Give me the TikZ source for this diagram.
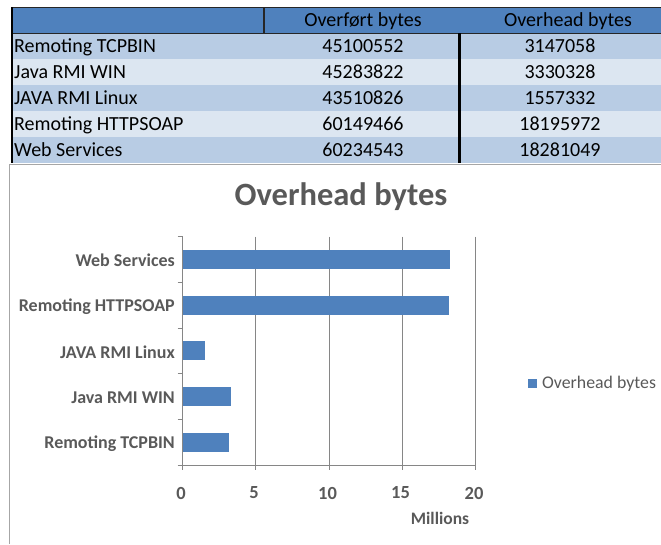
\documentclass[tikz,border=0pt]{standalone}
\usepackage{fontspec}
\setmainfont{Carlito}
\usepackage{tikz}

\definecolor{headblue}{HTML}{4F81BD}
\definecolor{rowdark}{HTML}{B8CCE4}
\definecolor{rowlight}{HTML}{DCE6F1}
\definecolor{chartgray}{HTML}{595959}
\definecolor{gridgray}{HTML}{868686}

\begin{document}
\begin{tikzpicture}[x=1pt,y=-1pt,
            cell/.style={font=\fontsize{20}{22}\selectfont, inner sep=0pt, text height=13pt, text depth=1pt},
            catlabel/.style={font=\fontsize{18}{20}\selectfont\bfseries, text=chartgray, anchor=east, inner sep=0pt},
            ticklabel/.style={font=\fontsize{18.5}{20}\selectfont\bfseries, text=chartgray, inner sep=0pt},
            bar/.style={fill=headblue}]

        \useasboundingbox (0,0) rectangle (661,544);

        % table
        \fill[headblue] (11,7) rectangle (661,33);
        \fill[rowdark]  (11,33) rectangle (661,59);
        \fill[rowlight] (11,59) rectangle (661,85);
        \fill[rowdark]  (11,85) rectangle (661,111);
        \fill[rowlight] (11,111) rectangle (661,137);
        \fill[rowdark]  (11,137) rectangle (661,163);
        \draw[black!85, line width=1pt] (11,7) -- (661,7);
        \draw[black!85, line width=1pt] (11,33) -- (661,33);
        \draw[black, line width=2pt] (12,7) -- (12,163);
        \draw[black!85, line width=1.5pt] (264,7) -- (264,33);
        \draw[black, line width=2.5pt] (459.5,33) -- (459.5,163);

        \node[cell] (hOver) at (363,20) {Overført bytes};
        \node[cell] (hHead) at (568,20) {Overhead bytes};

        \node[cell, anchor=west] (tTcp) at (14,46.5) {Remoting TCPBIN};
        \node[cell] (oTcp) at (363,46.5) {45100552};
        \node[cell] (hTcp) at (560,46.5) {3147058};
        \node[cell, anchor=west] (tWin) at (14,72.5) {Java RMI WIN};
        \node[cell] (oWin) at (363,72.5) {45283822};
        \node[cell] (hWin) at (560,72.5) {3330328};
        \node[cell, anchor=west] (tLin) at (14,98.5) {JAVA RMI Linux};
        \node[cell] (oLin) at (363,98.5) {43510826};
        \node[cell] (hLin) at (560,98.5) {1557332};
        \node[cell, anchor=west] (tSoap) at (14,124.5) {Remoting HTTPSOAP};
        \node[cell] (oSoap) at (363,124.5) {60149466};
        \node[cell] (hSoap) at (560,124.5) {18195972};
        \node[cell, anchor=west] (tWeb) at (14,150.5) {Web Services};
        \node[cell] (oWeb) at (363,150.5) {60234543};
        \node[cell] (hWeb) at (560,150.5) {18281049};

        % chart frame
        \draw[gray!70, line width=1pt] (9.5,544) -- (9.5,164) -- (661,164);

        \node[font=\fontsize{32.5}{36}\selectfont\bfseries, text=chartgray] (title) at (341,197) {Overhead bytes};

        % grid and axes
        \draw[gridgray, line width=0.8pt] (255.8,236.7) -- (255.8,470);
        \draw[gridgray, line width=0.8pt] (329,236.7) -- (329,470);
        \draw[gridgray, line width=0.8pt] (402.1,236.7) -- (402.1,470);
        \draw[gridgray, line width=0.8pt] (475.3,236.7) -- (475.3,470);
        \draw[gridgray, line width=0.8pt] (182.7,236.7) -- (182.7,470);
        \draw[gridgray, line width=0.8pt] (177.5,465) -- (475.3,465);
        \draw[gridgray, line width=0.8pt] (177.5,236.7) -- (182.7,236.7);
        \draw[gridgray, line width=0.8pt] (177.5,282.4) -- (182.7,282.4);
        \draw[gridgray, line width=0.8pt] (177.5,328.1) -- (182.7,328.1);
        \draw[gridgray, line width=0.8pt] (177.5,373.7) -- (182.7,373.7);
        \draw[gridgray, line width=0.8pt] (177.5,419.4) -- (182.7,419.4);

        % bars (14.63 per million)
        \fill[bar] (182.7,250) rectangle ({182.7+14.63*18.281049},269);
        \fill[bar] (182.7,295.7) rectangle ({182.7+14.63*18.195972},314.7);
        \fill[bar] (182.7,341.4) rectangle ({182.7+14.63*1.557332},360.4);
        \fill[bar] (182.7,387) rectangle ({182.7+14.63*3.330328},406);
        \fill[bar] (182.7,432.7) rectangle ({182.7+14.63*3.147058},451.7);

        \node[catlabel] (cWeb) at (175,260.5) {Web Services};
        \node[catlabel] (cSoap) at (175,306.2) {Remoting HTTPSOAP};
        \node[catlabel] (cLin) at (175,351.9) {JAVA RMI Linux};
        \node[catlabel] (cWin) at (175,397.5) {Java RMI WIN};
        \node[catlabel] (cTcp) at (175,443.2) {Remoting TCPBIN};

        \node[ticklabel] (x0) at (181,493) {0};
        \node[ticklabel] (x5) at (254,493) {5};
        \node[ticklabel] (x10) at (327.5,493) {10};
        \node[ticklabel] (x15) at (400.5,493) {15};
        \node[ticklabel] (x20) at (474,493) {20};
        \node[ticklabel, font=\fontsize{17.5}{19}\selectfont\bfseries] (unit) at (440,518) {Millions};

        % legend
        \fill[bar] (528,379) rectangle (537,388);
        \node[font=\fontsize{17.8}{20}\selectfont, text=chartgray, anchor=west, inner sep=0pt] (legend) at (542,384) {Overhead bytes};

    \end{tikzpicture}
\end{document}
